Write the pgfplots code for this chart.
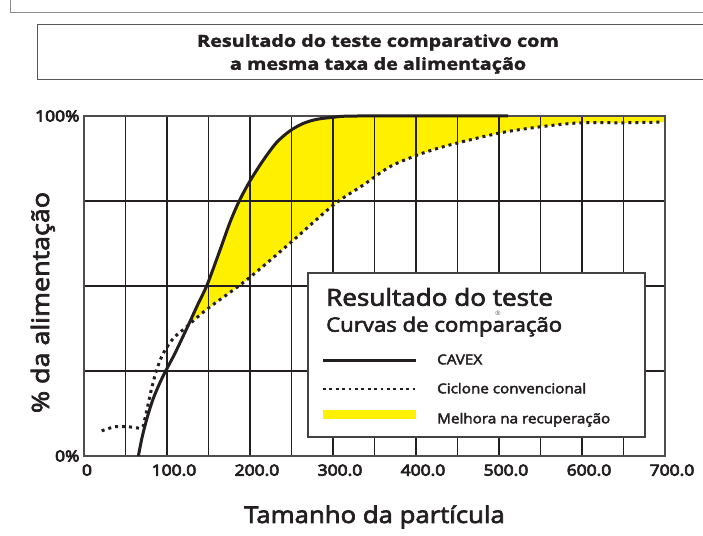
\documentclass[border=0pt]{standalone}
\usepackage{fontspec}
\setmainfont{Open Sans}[FakeStretch=1.12]
\newfontfamily\medf{Open Sans}[FakeStretch=1.12, FakeBold=3]
\newfontfamily\semif{Open Sans}[FakeStretch=1.14, FakeBold=5]
\newfontfamily\ttlf{Open Sans}[FakeStretch=1.2, FakeBold=2]
\usepackage{pgfplots}
\pgfplotsset{compat=1.18}
\usepgfplotslibrary{fillbetween}
\definecolor{ink}{RGB}{35,31,32}
\definecolor{yel}{RGB}{255,240,0}
\definecolor{framegray}{RGB}{140,140,140}
\begin{document}
\begin{tikzpicture}[x=1pt,y=1pt]
% outer frame and title box
\draw[framegray, line width=1.3pt] (10.5,540) -- (10.5,522.5) -- (720,522.5);
\draw[ink!75, line width=1pt] (37.5,455) rectangle (720,510);
\node[align=center, font=\ttlf\bfseries\fontsize{16.5}{23}\selectfont, text=ink] at (378,481)
  {Resultado do teste comparativo com\\a mesma taxa de alimentação};
\begin{axis}[
  at={(84pt,79pt)}, anchor=south west,
  scale only axis, width=581pt, height=340pt,
  xmin=0, xmax=700, ymin=0, ymax=100,
  clip=false,
  xtick={0,50,...,700},
  xticklabels={\hspace*{-8pt}0,,100.0,,200.0,,300.0,,400.0,,500.0,,600.0,,700.0},
  ytick={0,25,50,75,100},
  yticklabels={0\%,,,,100\%},
  grid=major,
  major grid style={line width=1.6pt, color=ink},
  major tick length=0pt,
  axis line style={line width=1.3pt, ink!80},
  tick label style={font=\semif\fontsize{15.3}{18}\selectfont, text=ink},
  xticklabel style={xshift=7pt, yshift=-5pt},
  yticklabel style={xshift=-1pt},
  xlabel={Tamanho da partícula},
  ylabel={\% da alimentação},
  xlabel style={font=\medf\fontsize{23}{28}\selectfont, text=ink, at={(axis description cs:0.5,-0.197)}, anchor=base},
  ylabel style={font=\medf\fontsize{24}{28}\selectfont, text=ink, at={(axis description cs:-0.0602,0.4515)}, anchor=base},
]
\addplot[name path=up, draw=none, smooth, forget plot] coordinates {
 (121.7,36.4)(125.7,38.5)(137,44.5)(148.6,50.5)(163.9,60.6)(176,68.8)(187,75)(200,80.9)(216,87)
 (232,92.2)(248,95.6)(264,97.8)(280,99)(300,99.6)(330,100)(700,100)};
\addplot[name path=low, draw=none, smooth, forget plot] coordinates {
 (121.7,37.6)(147.8,43.1)(196,51.8)(248.2,62.6)(300.4,73.8)(336.5,79.7)(368.7,85.1)
 (405,88.8)(441,91.5)(501,95)(549,96.8)(598,98)(649,98)(700,98.2)};
\addplot[yel, forget plot] fill between[of=up and low, soft clip={domain=125:700}, on layer=axis background];
% CAVEX
\addplot[ink, line width=3pt, smooth] coordinates {
 (65.5,0)(70,5.5)(76,11.2)(83,16.6)(91,21.3)(98.8,25.2)(109.6,30.2)(125.7,38.5)(137,44.5)(148.6,50.5)
 (163.9,60.6)(176,68.8)(187,75)(200,80.9)(216,87)(232,92.2)(248,95.6)(264,97.8)(280,99)(300,99.6)
 (330,100)(511,100)};
% Ciclone convencional
\addplot[ink, line width=3pt, dash pattern=on 3pt off 4pt, smooth] coordinates {
 (21.3,7.4)(37.3,8.6)(53.4,8.6)(69.5,8.3)(73.5,11.1)(77.5,15.5)(81.5,19.9)(87.5,25.3)
 (95.5,30.2)(107.6,34.6)(121.7,37.6)(147.8,43.1)(196,51.8)(248.2,62.6)(300.4,73.8)
 (336.5,79.7)(368.7,85.1)(405,88.8)(441,91.5)(501,95)(549,96.8)(598,98)(649,98)(697,98.2)};
\end{axis}
% legend
\draw[ink!85, line width=1.2pt, fill=white] (308,98) rectangle (645,262);
\node[anchor=base west, inner sep=0pt, font=\medf\fontsize{23.3}{28}\selectfont, text=ink] at (326,229.3) {Resultado do teste};
\node[inner sep=0pt, font=\fontsize{6}{7}\selectfont, text=ink!70] at (498,221.5) {®};
\node[anchor=base west, inner sep=0pt, font=\medf\fontsize{19.8}{24}\selectfont, text=ink] at (326,203.3) {Curvas de comparação};
\draw[ink, line width=3pt] (323,174.3) -- (416,174.3);
\draw[ink, line width=2.8pt, dash pattern=on 2.8pt off 3.6pt] (323,146) -- (416,146);
\fill[yel] (323,115.7) rectangle (416,125);
\node[anchor=base west, inner sep=0pt, font=\medf\fontsize{13.6}{16}\selectfont, text=ink] at (437,170.7) {CAVEX};
\node[anchor=base west, inner sep=0pt, font=\medf\fontsize{13.6}{16}\selectfont, text=ink] at (437,141.7) {Ciclone convencional};
\node[anchor=base west, inner sep=0pt, font=\medf\fontsize{13.6}{16}\selectfont, text=ink] at (437,111.7) {Melhora na recuperação};
\pgfresetboundingbox
\path (0,0) rectangle (703,535);
\end{tikzpicture}
\end{document}
